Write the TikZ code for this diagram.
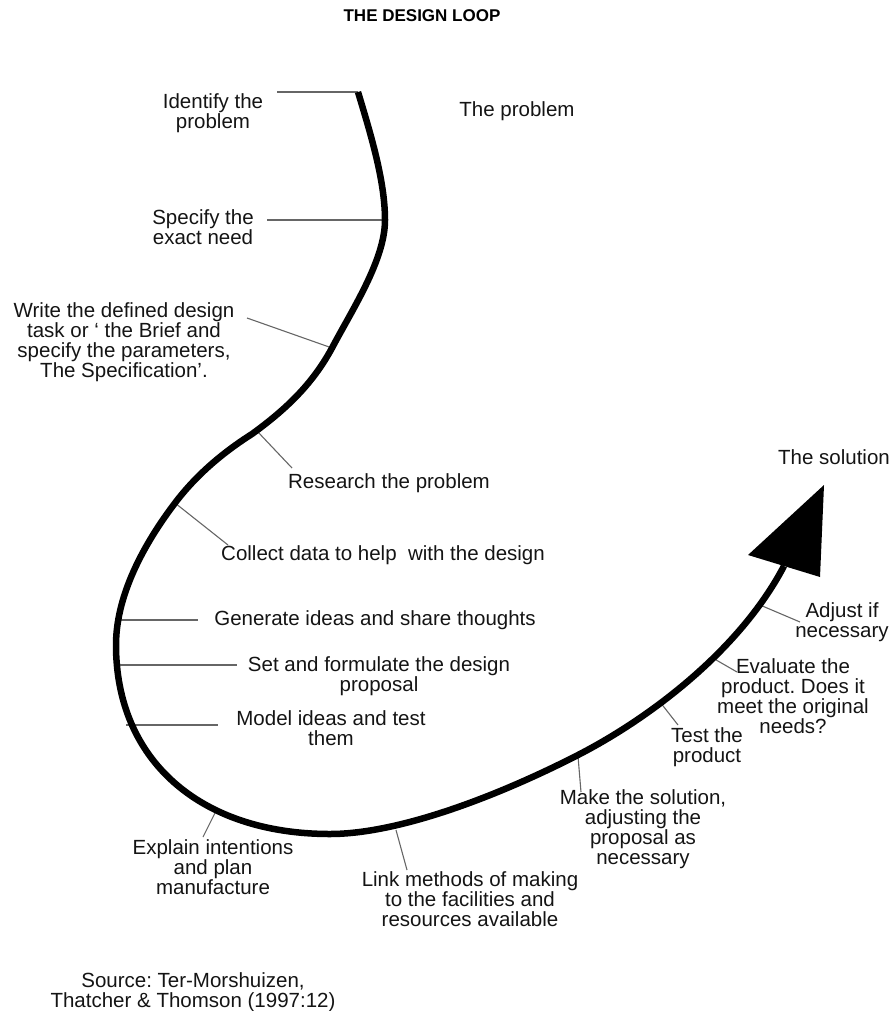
\documentclass[tikz,border=0pt]{standalone}
\usepackage{fontspec}
\setmainfont{Liberation Sans}
\frenchspacing
\begin{document}
\begin{tikzpicture}[x=1pt,y=-1pt,
  lbl/.style={inner sep=0pt, align=center, text=black!92,
    font=\fontsize{20.5}{20}\selectfont},
  heading/.style={inner sep=0pt, text=black,
    font=\bfseries\fontsize{17}{20}\selectfont},
  leader/.style={draw=black!60, line width=1.1pt},
  loopline/.style={line width=6.5pt, black},
  tiphead/.style={fill=black}]
\useasboundingbox (0,0) rectangle (894,1011);

% title and captions
\node[heading] (title) at (422,16) {THE DESIGN LOOP};
\node[lbl] (identify) at (213,113) {Identify the\\problem};
\node[lbl] (problem) at (517,111) {The problem};
\node[lbl] (specify) at (203,227) {Specify the\\exact need};
\node[lbl] (write) at (124,342) {Write the defined design\\task or ` the Brief and\\specify the parameters,\\The Specification'.};
\node[lbl] (research) at (389,483) {Research the problem};
\node[lbl, anchor=west] (collect) at (221,555) {Collect data to help\ \ with the design};
\node[lbl] (generate) at (375,620) {Generate ideas and share thoughts};
\node[lbl] (set) at (379,676) {Set and formulate the design\\proposal};
\node[lbl] (model) at (331,728) {Model ideas and test\\them};
\node[lbl] (explain) at (213,867) {Explain intentions\\and plan\\manufacture};
\node[lbl] (link) at (470,899) {Link methods of making\\to the facilities and\\resources available};
\node[lbl] (make) at (643,829) {Make the solution,\\adjusting the\\proposal as\\necessary};
\node[lbl] (test) at (707,747) {Test the\\product};
\node[lbl] (evaluate) at (793,696) {Evaluate the\\product. Does it\\meet the original\\needs?};
\node[lbl] (adjust) at (842,622) {Adjust if\\necessary};
\node[lbl] (solution) at (834,457) {The solution};
\node[lbl] (source) at (193,992) {Source: Ter-Morshuizen,\\Thatcher \& Thomson (1997:12)};

% points on the loop where the leaders meet it
\coordinate (pIdentify) at (358,92);
\coordinate (pSpecify) at (384,220);
\coordinate (pWrite) at (332,348);
\coordinate (pResearch) at (257,431);
\coordinate (pCollect) at (175,503);
\coordinate (pGenerate) at (117,620);
\coordinate (pSet) at (116,665);
\coordinate (pModel) at (126,725);
\coordinate (pExplain) at (215,813);
\coordinate (pLink) at (396,830);
\coordinate (pMake) at (578,756);
\coordinate (pTest) at (660,702);
\coordinate (pEvaluate) at (711,657);
\coordinate (pAdjust) at (760,605);

% free ends of the leaders, beside their captions
\coordinate (eIdentify) at (277,92);
\coordinate (eSpecify) at (267,220);
\coordinate (eWrite) at (247,318);
\coordinate (eResearch) at (292,468);
\coordinate (eCollect) at (228,545);
\coordinate (eGenerate) at (198,620);
\coordinate (eSet) at (237,665);
\coordinate (eModel) at (218,725);
\coordinate (eExplain) at (203,837);
\coordinate (eLink) at (407,870);
\coordinate (eMake) at (581,792);
\coordinate (eTest) at (678,725);
\coordinate (eEvaluate) at (737,672);
\coordinate (eAdjust) at (800,622);

\foreach \s in {Identify,Specify,Write,Research,Collect,Generate,Set,Model,Explain,Link,Make,Test,Evaluate,Adjust}
  \draw[leader] (p\s) -- (e\s);

% the loop itself
\coordinate (start) at (358,92);
\coordinate (loopEnd) at (784,566);
\draw[loopline] (start)
  .. controls (370,132) and (385,180) .. (385,220)
  .. controls (385,260) and (352,310) .. (332,348)
  .. controls (312,385) and (285,410) .. (252,434)
  .. controls (230,448) and (200,470) .. (175,503)
  .. controls (150,536) and (116,590) .. (116,645)
  .. controls (116,760) and (200,834) .. (330,834)
  .. controls (400,834) and (500,795) .. (578,755)
  .. controls (650,718) and (740,650) .. (loopEnd);

% arrow head at the end of the loop
\coordinate (tip) at (824,485);
\coordinate (baseL) at (748,555);
\coordinate (baseR) at (820,577);
\fill[tiphead] (tip) -- (baseL) -- (baseR) -- cycle;
\end{tikzpicture}
\end{document}
